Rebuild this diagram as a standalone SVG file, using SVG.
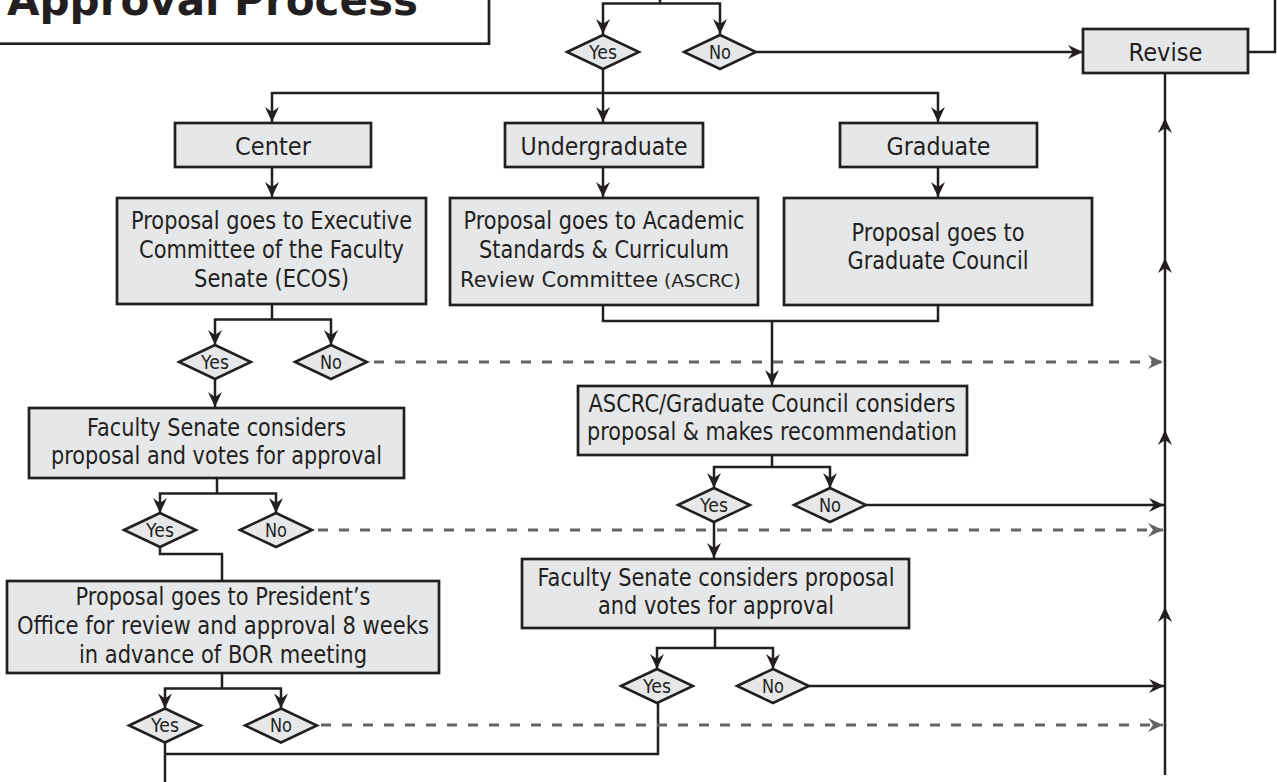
<svg xmlns="http://www.w3.org/2000/svg" width="1277" height="782" viewBox="0 0 1277 782">
<defs>
<style>
.box{fill:#e6e7e8;stroke:#231f20;stroke-width:2.7}
.dia{fill:#e6e7e8;stroke:#231f20;stroke-width:2.5}
.t{font-family:"DejaVu Sans","Liberation Sans",sans-serif;font-size:24px;fill:#231f20;text-anchor:middle}
.h{font-size:25px}
.d{font-size:19px}
.ln{fill:none;stroke:#231f20;stroke-width:2.5}
.dash{fill:none;stroke:#636466;stroke-width:3;stroke-dasharray:10 11}
</style>
<marker id="arr" viewBox="-16 -8 17 16" refX="0" refY="0" markerWidth="17" markerHeight="16" markerUnits="userSpaceOnUse" orient="auto">
<path d="M0,0 L-15,-7 L-10,0 L-15,7 Z" fill="#231f20"/>
</marker>
<marker id="arrg" viewBox="-16 -8 17 16" refX="0" refY="0" markerWidth="17" markerHeight="16" markerUnits="userSpaceOnUse" orient="auto">
<path d="M0,0 L-15,-7 L-10,0 L-15,7 Z" fill="#636466"/>
</marker>
</defs>
<rect width="1277" height="782" fill="#ffffff"/>

<g id="connectors">
<path class="ln" d="M660,-2 V3.5"/>
<path class="ln" d="M660,3.5 H603 V34" marker-end="url(#arr)"/>
<path class="ln" d="M660,3.5 H720 V34" marker-end="url(#arr)"/>
<path class="ln" d="M756,52 H1083" marker-end="url(#arr)"/>
<path class="ln" d="M603,69 V93"/>
<path class="ln" d="M603,93 H272 V122" marker-end="url(#arr)"/>
<path class="ln" d="M603,93 V122" marker-end="url(#arr)"/>
<path class="ln" d="M603,93 H938 V122" marker-end="url(#arr)"/>
<path class="ln" d="M1248,52 H1275 V-2"/>
<path class="ln" d="M272,167 V197" marker-end="url(#arr)"/>
<path class="ln" d="M603,167 V197" marker-end="url(#arr)"/>
<path class="ln" d="M938,167 V197" marker-end="url(#arr)"/>
<path class="ln" d="M272,304 V319.5"/>
<path class="ln" d="M272,319.5 H215 V345" marker-end="url(#arr)"/>
<path class="ln" d="M272,319.5 H331 V345" marker-end="url(#arr)"/>
<path class="ln" d="M215,379 V407" marker-end="url(#arr)"/>
<path class="ln" d="M217,478 V493.5"/>
<path class="ln" d="M217,493.5 H160 V513" marker-end="url(#arr)"/>
<path class="ln" d="M217,493.5 H276 V513" marker-end="url(#arr)"/>
<path class="ln" d="M160,547 V554 H222 V581"/>
<path class="ln" d="M222,673 V688.5"/>
<path class="ln" d="M222,688.5 H165 V708.5" marker-end="url(#arr)"/>
<path class="ln" d="M222,688.5 H281 V708.5" marker-end="url(#arr)"/>
<path class="ln" d="M165,742.5 V784"/>
<path class="ln" d="M165,754 H658 V703"/>
<path class="ln" d="M603,305 V321 H938 V305"/>
<path class="ln" d="M772,321 V385" marker-end="url(#arr)"/>
<path class="ln" d="M772,455 V467"/>
<path class="ln" d="M772,467 H714 V488" marker-end="url(#arr)"/>
<path class="ln" d="M772,467 H830 V488" marker-end="url(#arr)"/>
<path class="ln" d="M866,505 H1164" marker-end="url(#arr)"/>
<path class="ln" d="M714,522 V558" marker-end="url(#arr)"/>
<path class="ln" d="M715,628 V648"/>
<path class="ln" d="M715,648 H657 V669" marker-end="url(#arr)"/>
<path class="ln" d="M715,648 H773 V669" marker-end="url(#arr)"/>
<path class="ln" d="M809,686 H1164" marker-end="url(#arr)"/>
<path class="ln" d="M1165,775 V607" marker-end="url(#arr)"/>
<path class="ln" d="M1165,607 V430" marker-end="url(#arr)"/>
<path class="ln" d="M1165,430 V258" marker-end="url(#arr)"/>
<path class="ln" d="M1165,258 V118" marker-end="url(#arr)"/>
<path class="ln" d="M1165,118 V73"/>
<path class="dash" d="M374,362 H1163" marker-end="url(#arrg)"/>
<path class="dash" d="M318,530 H1163" marker-end="url(#arrg)"/>
<path class="dash" d="M321,725 H1163" marker-end="url(#arrg)"/>
</g>

<g id="title">
<rect x="-10" y="-10" width="499" height="53.7" fill="#ffffff" stroke="#231f20" stroke-width="2.7"/>
<text x="7" y="15" font-family="'DejaVu Sans','Liberation Sans',sans-serif" font-weight="bold" font-size="42" fill="#231f20" textLength="411" lengthAdjust="spacingAndGlyphs">Approval Process</text>
</g>

<g id="revise">
<rect class="box" x="1083" y="29" width="165" height="44"/>
<text class="t" x="1165.5" y="61" font-size="26" textLength="74" lengthAdjust="spacingAndGlyphs">Revise</text>
</g>

<g id="center">
<rect class="box" x="175" y="123" width="196" height="44"/>
<text class="t h" x="273" y="154.5" textLength="76" lengthAdjust="spacingAndGlyphs">Center</text>
</g>
<g id="undergraduate">
<rect class="box" x="505" y="123" width="198" height="44"/>
<text class="t h" x="604" y="154.5" textLength="167" lengthAdjust="spacingAndGlyphs">Undergraduate</text>
</g>
<g id="graduate">
<rect class="box" x="840" y="123" width="197" height="44"/>
<text class="t h" x="938.5" y="154.5" textLength="104" lengthAdjust="spacingAndGlyphs">Graduate</text>
</g>

<g id="ecos">
<rect class="box" x="117" y="198" width="309" height="106"/>
<text class="t" x="271.5" y="228.5" textLength="281" lengthAdjust="spacingAndGlyphs">Proposal goes to Executive</text>
<text class="t" x="271.5" y="257.5" textLength="265" lengthAdjust="spacingAndGlyphs">Committee of the Faculty</text>
<text class="t" x="271.5" y="286.5" textLength="155" lengthAdjust="spacingAndGlyphs">Senate (ECOS)</text>
</g>
<g id="ascrc-proposal">
<rect class="box" x="450" y="198" width="308" height="107"/>
<text class="t" x="604" y="228.5" textLength="281" lengthAdjust="spacingAndGlyphs">Proposal goes to Academic</text>
<text class="t" x="604" y="257.5" textLength="250" lengthAdjust="spacingAndGlyphs">Standards &amp; Curriculum</text>
<text class="t" x="460" y="286.5" style="text-anchor:start;font-size:21px">Review Committee</text>
<text class="t" x="664" y="286.5" style="text-anchor:start;font-size:18.5px">(ASCRC)</text>
</g>
<g id="graduate-council">
<rect class="box" x="784" y="198" width="308" height="107"/>
<text class="t" x="938" y="241" textLength="173" lengthAdjust="spacingAndGlyphs">Proposal goes to</text>
<text class="t" x="938" y="269" textLength="181" lengthAdjust="spacingAndGlyphs">Graduate Council</text>
</g>

<g id="ascrc-council">
<rect class="box" x="578" y="386" width="389" height="69"/>
<text class="t" x="772" y="412" textLength="367" lengthAdjust="spacingAndGlyphs">ASCRC/Graduate Council considers</text>
<text class="t" x="772" y="440" textLength="370" lengthAdjust="spacingAndGlyphs">proposal &amp; makes recommendation</text>
</g>

<g id="faculty-senate-left">
<rect class="box" x="29" y="408" width="375" height="70"/>
<text class="t" x="216.5" y="436" textLength="259" lengthAdjust="spacingAndGlyphs">Faculty Senate considers</text>
<text class="t" x="216.5" y="464" textLength="331" lengthAdjust="spacingAndGlyphs">proposal and votes for approval</text>
</g>

<g id="faculty-senate-right">
<rect class="box" x="522" y="559" width="387" height="69"/>
<text class="t" x="716" y="586" textLength="357" lengthAdjust="spacingAndGlyphs">Faculty Senate considers proposal</text>
<text class="t" x="716" y="614" textLength="236" lengthAdjust="spacingAndGlyphs">and votes for approval</text>
</g>

<g id="president">
<rect class="box" x="7" y="581" width="432" height="92"/>
<text class="t" x="223" y="605" textLength="295" lengthAdjust="spacingAndGlyphs">Proposal goes to President’s</text>
<text class="t" x="223" y="634" textLength="412" lengthAdjust="spacingAndGlyphs">Office for review and approval 8 weeks</text>
<text class="t" x="223" y="662.5" textLength="288" lengthAdjust="spacingAndGlyphs">in advance of BOR meeting</text>
</g>

<g id="d1-yes"><polygon class="dia" points="567,52 603,35 639,52 603,69"/><text class="t d" x="603" y="58.5" textLength="28" lengthAdjust="spacingAndGlyphs">Yes</text></g>
<g id="d1-no"><polygon class="dia" points="684,52 720,35 756,52 720,69"/><text class="t d" x="720" y="58.5" textLength="22" lengthAdjust="spacingAndGlyphs">No</text></g>
<g id="d2-yes"><polygon class="dia" points="179,362 215,345 251,362 215,379"/><text class="t d" x="215" y="368.5" textLength="28" lengthAdjust="spacingAndGlyphs">Yes</text></g>
<g id="d2-no"><polygon class="dia" points="295,362 331,345 367,362 331,379"/><text class="t d" x="331" y="368.5" textLength="22" lengthAdjust="spacingAndGlyphs">No</text></g>
<g id="d3-yes"><polygon class="dia" points="124,530 160,513 196,530 160,547"/><text class="t d" x="160" y="536.5" textLength="28" lengthAdjust="spacingAndGlyphs">Yes</text></g>
<g id="d3-no"><polygon class="dia" points="240,530 276,513 312,530 276,547"/><text class="t d" x="276" y="536.5" textLength="22" lengthAdjust="spacingAndGlyphs">No</text></g>
<g id="d4-yes"><polygon class="dia" points="129,725.5 165,708.5 201,725.5 165,742.5"/><text class="t d" x="165" y="732" textLength="28" lengthAdjust="spacingAndGlyphs">Yes</text></g>
<g id="d4-no"><polygon class="dia" points="245,725.5 281,708.5 317,725.5 281,742.5"/><text class="t d" x="281" y="732" textLength="22" lengthAdjust="spacingAndGlyphs">No</text></g>
<g id="d5-yes"><polygon class="dia" points="678,505 714,488 750,505 714,522"/><text class="t d" x="714" y="511.5" textLength="28" lengthAdjust="spacingAndGlyphs">Yes</text></g>
<g id="d5-no"><polygon class="dia" points="794,505 830,488 866,505 830,522"/><text class="t d" x="830" y="511.5" textLength="22" lengthAdjust="spacingAndGlyphs">No</text></g>
<g id="d6-yes"><polygon class="dia" points="621,686 657,669 693,686 657,703"/><text class="t d" x="657" y="692.5" textLength="28" lengthAdjust="spacingAndGlyphs">Yes</text></g>
<g id="d6-no"><polygon class="dia" points="737,686 773,669 809,686 773,703"/><text class="t d" x="773" y="692.5" textLength="22" lengthAdjust="spacingAndGlyphs">No</text></g>
</svg>
